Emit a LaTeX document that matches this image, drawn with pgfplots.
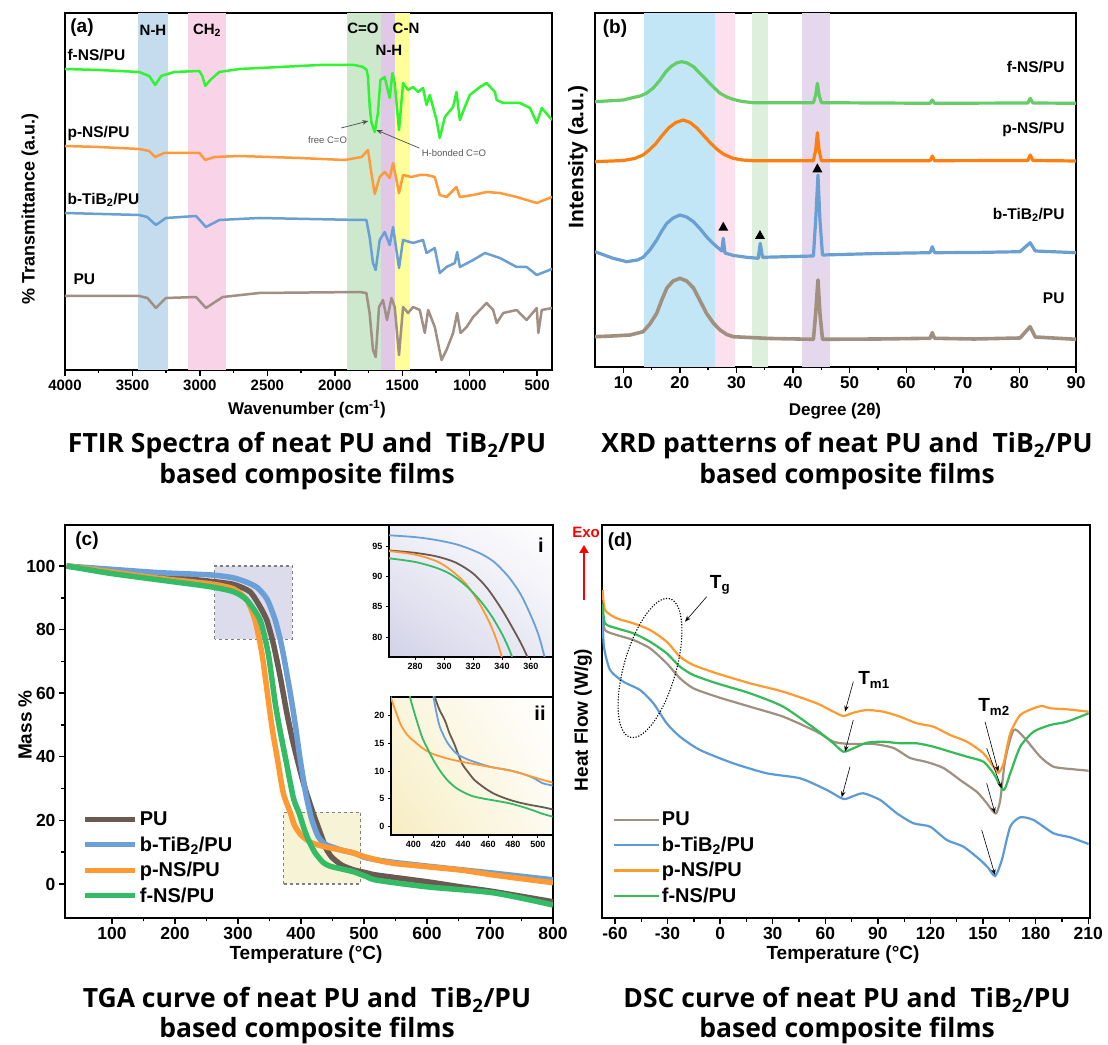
\documentclass[border=0pt]{standalone}
\usepackage{pgfplots}
\pgfplotsset{compat=1.18}
\usepackage{fontspec}
\setmainfont{Liberation Sans}
\newfontfamily\capfont{Open Sans}
\usetikzlibrary{arrows.meta,shadings}

\definecolor{cPUa}{HTML}{A08F84}
\definecolor{cBa}{HTML}{6A9FD4}
\definecolor{cPa}{HTML}{FF9A3C}
\definecolor{cFa}{HTML}{2EF52E}
\definecolor{cPUb}{HTML}{A09080}
\definecolor{cBb}{HTML}{6A9FD4}
\definecolor{cPb}{HTML}{FF7F0E}
\definecolor{cFb}{HTML}{66CC66}
\definecolor{cPUc}{HTML}{6B5A52}
\definecolor{cBc}{HTML}{6A9FD8}
\definecolor{cPc}{HTML}{FF9933}
\definecolor{cFc}{HTML}{33BB66}
\definecolor{cPUd}{HTML}{A09080}
\definecolor{cBd}{HTML}{5B9BD5}
\definecolor{cPd}{HTML}{FF9A2E}
\definecolor{cFd}{HTML}{33BB55}
\definecolor{bNH}{HTML}{C5DCEF}
\definecolor{bCH}{HTML}{F9D4E8}
\definecolor{bCO}{HTML}{CDE8CD}
\definecolor{bNHb}{HTML}{E0C8E6}
\definecolor{bCN}{HTML}{FFFF99}
\definecolor{xA}{HTML}{C2E6F6}
\definecolor{xB}{HTML}{FCE0EE}
\definecolor{xC}{HTML}{DDF0DD}
\definecolor{xD}{HTML}{E6D8EC}
\definecolor{boxI}{HTML}{DCDCEC}
\definecolor{boxII}{HTML}{F7F3D6}
\definecolor{insI}{HTML}{D2D2E8}
\definecolor{insII}{HTML}{F7EDC2}

\newcommand{\fsz}[1]{\fontsize{#1}{#1}\selectfont}

\pgfplotsset{
  panel/.style={scale only axis, anchor=south west, clip=true,
    axis line style={line width=2pt, black},
    tick align=outside, xtick pos=left, ytick pos=left,
    major tick length=6pt, minor tick length=3.5pt,
    tick style={black, line width=1.4pt},
    tick label style={font=\bfseries\fsz{#1}},
    /pgf/number format/assume math mode=true,
    /pgf/number format/1000 sep={},
  },
}

\begin{document}
\begin{tikzpicture}[x=1pt,y=1pt]
\fill[white] (0pt,0pt) rectangle (1108pt,1044pt);
\useasboundingbox (0pt,0pt) rectangle (1108pt,1044pt);

% ================= (a) FTIR =================
\begin{axis}[panel=15, at={(65pt,674pt)}, width=487pt, height=357pt,
  x dir=reverse, xmin=390, xmax=4000, y dir=reverse, ymin=13, ymax=370,
  xtick={500,1000,...,4000}, minor x tick num=1, ytick=\empty]
\fill[bNH] (axis cs:3460,13) rectangle (axis cs:3240,370);
\fill[bCH] (axis cs:3090,13) rectangle (axis cs:2810,370);
\fill[bCO] (axis cs:1907,13) rectangle (axis cs:1655,370);
\fill[bNHb] (axis cs:1655,13) rectangle (axis cs:1556,370);
\fill[bCN] (axis cs:1556,13) rectangle (axis cs:1439,370);
\addplot[cPUa, line width=2.5pt, line join=round] coordinates {
(4000,296) (3450,296) (3389,298) (3326,308) (3252,298) (3029,297) (2955,308) (2831,297) (2559,293) (1816,292) (1766,293) (1742,313) (1717,350) (1697,357) (1672,307) (1643,300) (1613,320) (1580,298) (1556,307) (1524,355) (1494,307) (1457,313) (1420,307) (1370,310) (1333,333) (1308,310) (1259,327) (1209,360) (1172,350) (1123,333) (1093,313) (1068,333) (1023,327) (974,317) (875,303) (826,310) (800,323) (751,313) (652,310) (578,320) (503,308) (491,333) (466,310) (390,308)};
\addplot[cBa, line width=2.5pt, line join=round] coordinates {
(4000,213) (3450,215) (3391,217) (3326,225) (3252,218) (3029,216) (2955,227) (2856,220) (2559,218) (1816,220) (1766,220) (1742,237) (1717,263) (1697,270) (1667,240) (1630,232) (1593,245) (1568,227) (1524,268) (1494,240) (1420,243) (1346,240) (1320,253) (1259,248) (1222,273) (1172,267) (1110,263) (1093,252) (1073,267) (974,260) (887,253) (776,258) (652,267) (578,267) (503,275) (390,269)};
\addplot[cPa, line width=2.5pt, line join=round] coordinates {
(4000,146) (3747,147) (3450,149) (3376,151) (3331,157) (3265,153) (3004,153) (2960,160) (2893,157) (2707,156) (2262,158) (1927,160) (1801,157) (1754,150) (1729,173) (1704,194) (1667,177) (1630,172) (1593,178) (1568,163) (1524,193) (1494,175) (1432,177) (1370,175) (1320,175) (1259,177) (1222,195) (1172,197) (1098,187) (1073,197) (974,195) (875,192) (776,193) (652,197) (503,203) (390,197)};
\addplot[cFa, line width=2.5pt, line join=round] coordinates {
(4000,69) (3747,70) (3450,72) (3376,76) (3331,85) (3287,76) (3190,72) (3004,71) (2982,76) (2960,86) (2923,80) (2856,72) (2707,69) (2410,67) (2113,65) (1853,65) (1791,67) (1764,70) (1754,77) (1741,107) (1729,122) (1704,132) (1680,113) (1662,80) (1630,77) (1593,98) (1573,73) (1556,83) (1524,130) (1494,83) (1457,90) (1420,87) (1383,92) (1346,88) (1320,105) (1296,95) (1246,120) (1222,138) (1184,117) (1123,107) (1098,92) (1073,120) (1036,107) (999,95) (924,87) (875,83) (813,92) (800,100) (751,103) (627,103) (553,108) (503,123) (466,108) (390,120)};
\draw[-{Stealth[length=6pt]}, black!70, line width=0.7pt] (axis cs:1952,128) -- (axis cs:1752,121);
\draw[-{Stealth[length=6pt]}, black!70, line width=0.7pt] (axis cs:1375,148) -- (axis cs:1692,130);
\node[font=\fsz{9.5}, text=black!65] at (axis cs:2054,140) {free C=O};
\node[font=\fsz{9.5}, text=black!65] at (axis cs:1117,153) {H-bonded C=O};
\end{axis}

% ================= (b) XRD =================
\begin{axis}[panel=17, at={(595pt,677pt)}, width=481pt, height=354pt,
  xmin=5, xmax=90, y dir=reverse, ymin=13, ymax=367,
  xtick={10,20,...,90}, minor x tick num=1, ytick=\empty]
\fill[xA] (axis cs:13.66,13) rectangle (axis cs:26.25,367);
\fill[xB] (axis cs:26.25,13) rectangle (axis cs:29.7,367);
\fill[xC] (axis cs:32.7,13) rectangle (axis cs:35.6,367);
\fill[xD] (axis cs:41.6,13) rectangle (axis cs:46.6,367);
\addplot[cPUb, line width=3.6pt, line join=round] coordinates {
(5,336.7) (8,336) (11.2,335) (13.5,331.7) (14.7,324) (15.9,313.3) (16.8,300) (17.7,288) (18.8,281) (20,278.3) (21.2,281) (22.4,288) (23.5,300) (24.7,313.3) (25.9,323) (27.1,330) (28.3,334.5) (29.4,336.7) (36,338.5) (43.6,339.3) (44.0,313.3) (44.4,280) (44.75,313.3) (45.2,339.3) (55,339) (64.2,338.3) (64.6,332.7) (65.0,338.3) (72,339) (80.1,338) (81.9,326.7) (82.8,337) (90,339.3)};
\addplot[cBb, line width=3.2pt, line join=round] coordinates {
(5,251.7) (8.2,258.3) (10.6,261.7) (12.5,260) (13.5,257.3) (14.7,250) (15.9,240) (16.8,231) (17.7,223.3) (18.8,218) (20,215) (21.2,217) (22.4,221.7) (23.6,229) (24.7,236.7) (25.6,242) (26.5,246.7) (27.4,251) (27.67,238.3) (27.96,253) (29.5,255.5) (31.8,257.3) (33.85,258.3) (34.2,243.3) (34.6,257.3) (43.6,256) (44.0,220) (44.4,175) (44.75,220) (45.2,255) (55,253.5) (64.2,252.7) (64.6,246.7) (65.0,252.7) (72,252.5) (80.1,251.7) (81.9,242.7) (82.8,251) (90,252.7)};
\addplot[cPb, line width=3.2pt, line join=round] coordinates {
(5,161.7) (10,160.5) (12,158.5) (13.5,155) (14.5,150.5) (15.7,144) (16.8,136) (18,128) (19.3,122.5) (20.6,120) (21.8,122.5) (23,128) (24.2,135.5) (25.4,143) (26.6,149.5) (27.8,154.5) (29.4,158.3) (31,160) (33,160.7) (43.6,160.7) (44.0,150) (44.3,132.7) (44.6,150) (45.0,160.7) (64.2,160.7) (64.6,156) (65,160.7) (81.5,160.5) (81.9,155) (82.4,160.5) (90,161)};
\addplot[cFb, line width=3.2pt, line join=round] coordinates {
(5,101.7) (10,100) (11.2,98.3) (13,96) (14.1,93.3) (15.3,88) (16.5,80) (17.5,72) (18.4,66.7) (19.4,63) (20.3,61.7) (21.3,63) (22.4,66.7) (23.5,73) (24.7,80) (25.9,87) (27.1,93.3) (28.3,97) (29.4,99.3) (31,101.5) (33,102.7) (43.6,102.7) (44.0,95) (44.3,83.3) (44.6,95) (45.0,102.7) (64.2,103.3) (64.6,100) (65,103.3) (81.5,103) (81.9,98.3) (82.4,103) (90,103.3)};
\fill (axis cs:27.67,226.7) ++(-5pt,-4pt) -- ++(10pt,0pt) -- ++(-5pt,9pt) -- cycle;
\fill (axis cs:34.15,235) ++(-5pt,-4pt) -- ++(10pt,0pt) -- ++(-5pt,9pt) -- cycle;
\fill (axis cs:44.3,168.3) ++(-5pt,-4pt) -- ++(10pt,0pt) -- ++(-5pt,9pt) -- cycle;
\end{axis}

% ================= (c) TGA =================
\begin{axis}[panel=17.5, at={(65pt,126pt)}, width=488pt, height=393pt,
  xmin=25.4, xmax=800, ymin=-10.7, ymax=112.9,
  xtick={100,200,...,800}, ytick={0,20,...,100}, minor tick num=1,
  legend style={at={(0.03,0.28)}, anchor=north west, draw=none, fill=none,
    font=\bfseries\fsz{20}, row sep=5.5pt, nodes={inner sep=2pt}},
  legend cell align=left,
  legend image code/.code={\draw[#1, line width=5pt] (0pt,0pt) -- (50pt,0pt);}]
\draw[dashed, gray, line width=1.2pt, fill=boxI] (axis cs:263,77) rectangle (axis cs:386,100);
\draw[dashed, gray, line width=1.2pt, fill=boxII] (axis cs:372,0) rectangle (axis cs:495,22.5);
\addplot[cPUc, line width=5.5pt, smooth, tension=0.4] coordinates {
(28,100) (97,98.5) (176,96.9) (256,95.2) (293,94.2) (319,91.9) (335,87.2) (345.7,83) (356,75.7) (367,65.2) (377.5,53.8) (388,44) (404,31.7) (418,23) (425,19.1) (433,14.8) (440,11.1) (449,8.4) (465,5.9) (484,4.4) (504,3.5) (520,2.8) (600,0.7) (653,-0.9) (706,-2.4) (800,-5.6)};
\addlegendentry{PU}
\addplot[cBc, line width=5.5pt, smooth, tension=0.4] coordinates {
(28,100) (97,99) (176,97.9) (256,97.2) (290,96.4) (310,95.2) (330,93.3) (346,89.6) (359,83) (369.6,74.6) (383,60) (391,50) (398,40) (408,28) (416,21) (421,18) (427,15) (435,13) (443,12.1) (465,10.6) (486,9.6) (504,8.2) (547,6.8) (653,4.5) (706,3.4) (800,1.3)};
\addlegendentry{b-TiB\textsubscript{2}/PU}
\addplot[cPc, line width=5.5pt, smooth, tension=0.4] coordinates {
(28,100) (97,98.2) (176,96.1) (256,94.4) (293,92.8) (314,89.3) (327,83) (338,72.5) (348,58) (355,48) (362,40) (372,28.5) (382.8,22.6) (389.5,18.5) (400,15.4) (416,13) (438,11.7) (460,10.8) (481,9.9) (504,8.4) (547,6.5) (653,4.4) (706,2.8) (800,0.4)};
\addlegendentry{p-NS/PU}
\addplot[cFc, line width=5.5pt, smooth, tension=0.4] coordinates {
(28,100) (97,97.7) (176,95.6) (256,93.5) (293,91.9) (314,89.3) (335,83) (348,72.5) (359,57) (367,48) (375,40) (388,27) (397.6,22) (404,17.9) (411,14.2) (422,9.9) (435,6.8) (446,5.6) (465,4.7) (484,3.8) (504,2.3) (520,1.2) (600,-0.9) (706,-2.8) (800,-6.6)};
\addlegendentry{f-NS/PU}
\end{axis}

% inset i
\begin{axis}[panel=9, at={(389pt,387pt)}, width=163.7pt, height=132pt,
  axis line style={line width=1.6pt}, major tick length=3pt, tick style={line width=1pt},
  xmin=262, xmax=375, ymin=76.7, ymax=98.5,
  xtick={280,300,...,360}, ytick={80,85,90,95},
  axis background/.style={shade, lower left=insI, upper left=insI!35!white, lower right=insI!45!white, upper right=white}]
\addplot[cPUc, line width=1.8pt, smooth] coordinates {
(262,94.3) (280,93.9) (295,93.3) (308,92.3) (320,90.5) (330,88) (340,84.5) (348,81.2) (353,79) (357,77) (359,75.5)};
\addplot[cBc, line width=1.8pt, smooth] coordinates {
(262,96.8) (280,96.5) (295,96.0) (310,95.2) (325,93.8) (335,92.3) (345,89.8) (353,87) (360,83.5) (365,80.5) (368,78) (370,76)};
\addplot[cPc, line width=1.8pt, smooth] coordinates {
(262,94.2) (280,93.6) (295,92.5) (305,91) (315,88.8) (322,86.5) (328,84) (333,81.5) (337,79) (339.5,77) (341,75.5)};
\addplot[cFc, line width=1.8pt, smooth] coordinates {
(262,93) (280,92.4) (295,91.4) (305,90.3) (315,88.5) (325,86) (333,83.4) (340,80.5) (344,78.5) (346.5,77) (348,75.5)};
\end{axis}

% inset ii
\begin{axis}[panel=9, at={(391pt,209pt)}, width=161.7pt, height=138pt,
  axis line style={line width=1.6pt}, major tick length=3pt, tick style={line width=1pt},
  xmin=382, xmax=512, ymin=-1.5, ymax=23.3,
  xtick={400,420,...,500}, ytick={0,5,...,20},
  axis background/.style={shade, lower left=insII, upper left=insII!55!white, lower right=insII!25!white, upper right=white}]
\addplot[cPUc, line width=1.8pt, smooth] coordinates {
(416,25) (417.7,23) (421,21) (425.3,19.1) (429,16.8) (433,14.8) (436,13) (439.7,11.1) (444,9.8) (449,8.4) (457,7) (465,5.9) (475,5) (483.9,4.4) (494,3.9) (504,3.5) (512,3.1)};
\addplot[cBc, line width=1.8pt, smooth] coordinates {
(415,26) (416.4,23) (420.5,18.5) (424,16.5) (427.3,15.1) (431,14) (435.4,13) (443.4,12.1) (455,11.2) (465,10.6) (476,10.2) (486.5,9.6) (496,8.8) (504,7.8) (512,7.4)};
\addplot[cPc, line width=1.8pt, smooth] coordinates {
(380,24.5) (382.8,22.6) (389.5,18.5) (395,16.5) (400.3,15.4) (408,14) (416.4,13) (428,12.2) (438,11.7) (450,11.2) (459.6,10.8) (470,10.4) (481,9.9) (492,9.2) (504,8.4) (512,7.9)};
\addplot[cFc, line width=1.8pt, smooth] coordinates {
(396,25) (397.6,23) (401,20.3) (404.3,17.9) (407.5,15.8) (411,14.2) (416,12) (421.9,9.9) (428,8.2) (435.4,6.8) (446,5.6) (455,5.1) (465,4.7) (475,4.3) (483.9,3.8) (494,3.1) (504,2.3) (512,1.8)};
\end{axis}

% ================= (d) DSC =================
\begin{axis}[panel=17.5, at={(602pt,126pt)}, width=488pt, height=393pt,
  xmin=-67.4, xmax=211, y dir=reverse, ymin=525, ymax=918,
  xtick={-60,-30,...,210}, minor x tick num=1, ytick=\empty,
  legend style={at={(0.015,0.28)}, anchor=north west, draw=none, fill=none,
    font=\bfseries\fsz{20}, row sep=5.5pt, nodes={inner sep=2pt}},
  legend cell align=left,
  legend image code/.code={\draw[#1, line width=2.4pt] (0pt,0pt) -- (45pt,0pt);}]
\addplot[cPUd, line width=2.2pt, smooth, tension=0.4] coordinates {
(-67,613.3) (-65.7,630) (-59,635) (-49.5,640) (-40,648.3) (-30.5,663.3) (-22.9,678.3) (-15.3,688.3) (-2,696.7) (17,706.7) (36,716.7) (55.1,731.7) (64.6,741.7) (74,744) (87.5,744) (98.9,748) (108.4,758) (117.9,762) (127.4,768) (136.9,780) (146.5,792) (152,803) (155,810) (157.5,813.3) (159.8,800) (162.6,760) (167.4,730) (173,736.7) (182.6,756.7) (190.2,766.7) (201.6,769.3) (210.2,770.7)};
\addlegendentry{PU}
\addplot[cBd, line width=2.2pt, smooth, tension=0.4] coordinates {
(-67,616.7) (-66.3,646.7) (-62.8,670) (-55.2,681.7) (-45.7,690) (-38.1,703.3) (-30.5,723.3) (-22.9,736.7) (-11.5,750) (7.5,763.3) (26.6,773.3) (45.6,778.3) (60.9,790) (70.3,799) (76,796) (81.8,793.3) (91.3,800) (100.8,813.3) (110.3,823.3) (119.8,826.7) (129.3,840) (138.8,846.7) (148.4,860) (153,868) (156.9,876) (160.7,860) (165.5,826.7) (171.2,817.3) (178.8,820) (190.2,833.3) (199.7,837.3) (210.2,844)};
\addlegendentry{b-TiB\textsubscript{2}/PU}
\addplot[cPd, line width=2.2pt, smooth, tension=0.4] coordinates {
(-67,590) (-65.7,610) (-59,618.3) (-49.5,623.3) (-40,630) (-30.5,641.7) (-22.9,656.7) (-15.3,665) (-2,673.3) (17,683.3) (36,691.7) (55.1,703.3) (64.6,711.7) (70.3,716) (76,712.7) (83.7,710) (93.2,711.7) (102.7,716.7) (112.2,723.3) (121.7,726.7) (131.2,735) (140.8,741.7) (150.2,753.3) (155.9,766.7) (158.8,772.7) (161.7,763.3) (165.5,733.3) (171.2,715) (178.8,708.3) (183.6,706) (188.3,708.3) (197.8,709.3) (210.2,711.7)};
\addlegendentry{p-NS/PU}
\addplot[cFd, line width=2.2pt, smooth, tension=0.4] coordinates {
(-67,603.3) (-65.7,623.3) (-59,628.3) (-49.5,633.3) (-40,641.7) (-30.5,653.3) (-22.9,666.7) (-15.3,675) (-2,683.3) (17,693.3) (36,706.7) (55.1,730) (64.6,743.3) (70.3,751.7) (76,748.3) (83.7,742.7) (93.2,741.7) (102.7,743.3) (112.2,743.3) (121.7,746.7) (131.2,751.7) (140.8,756.7) (150.2,761.7) (155.9,773.3) (161.7,790) (165.5,773.3) (171.2,746.7) (178.8,731.7) (188.3,725) (197.8,721.7) (210.2,713.3)};
\addlegendentry{f-NS/PU}
\end{axis}

% ================= texts (a) =================
\node[font=\bfseries\fsz{19}] at (82pt,1016pt) {(a)};
\node[font=\bfseries\fsz{15}] at (153pt,1014pt) {N-H};
\node[font=\bfseries\fsz{15}] at (207pt,1014pt) {CH\textsubscript{2}};
\node[font=\bfseries\fsz{15}] at (363pt,1016pt) {C=O};
\node[font=\bfseries\fsz{15}] at (406pt,1016pt) {C-N};
\node[font=\bfseries\fsz{15}] at (389pt,994pt) {N-H};
\node[font=\bfseries\fsz{15.5}, anchor=west] at (64pt,989pt) {f-NS/PU};
\node[font=\bfseries\fsz{15.5}, anchor=west] at (64pt,910pt) {p-NS/PU};
\node[font=\bfseries\fsz{15.5}, anchor=west] at (64pt,844pt) {b-TiB\textsubscript{2}/PU};
\node[font=\bfseries\fsz{15.5}, anchor=west] at (70pt,765pt) {PU};
\node[font=\bfseries\fsz{17}] at (307pt,635pt) {Wavenumber (cm\textsuperscript{-1})};
\node[font=\bfseries\fsz{18}, rotate=90] at (30pt,835pt) {\% Transmittance (a.u.)};
\node[font=\capfont\bfseries\fsz{26.5}] at (307pt,598pt) {FTIR Spectra of neat PU and\ \ TiB\textsubscript{2}/PU};
\node[font=\capfont\bfseries\fsz{26.5}] at (307pt,567pt) {based composite films};

% ================= texts (b) =================
\node[font=\bfseries\fsz{19}] at (615pt,1015pt) {(b)};
\node[font=\bfseries\fsz{15.5}, anchor=east] at (1068pt,977pt) {f-NS/PU};
\node[font=\bfseries\fsz{15.5}, anchor=east] at (1068pt,914pt) {p-NS/PU};
\node[font=\bfseries\fsz{15.5}, anchor=east] at (1068pt,829pt) {b-TiB\textsubscript{2}/PU};
\node[font=\bfseries\fsz{15.5}, anchor=east] at (1068pt,746pt) {PU};
\node[font=\bfseries\fsz{17}] at (835pt,633pt) {Degree (2θ)};
\node[font=\bfseries\fsz{21}, rotate=90] at (578pt,887pt) {Intensity (a.u.)};
\node[font=\capfont\bfseries\fsz{26.5}] at (847pt,598pt) {XRD patterns of neat PU and\ \ TiB\textsubscript{2}/PU};
\node[font=\capfont\bfseries\fsz{26.5}] at (847pt,567pt) {based composite films};

% ================= texts (c) =================
\node[font=\bfseries\fsz{19}] at (87pt,503pt) {(c)};
\node[font=\bfseries\fsz{20}] at (541pt,499pt) {i};
\node[font=\bfseries\fsz{20}] at (540pt,331pt) {ii};
\node[font=\bfseries\fsz{19}, rotate=90] at (25pt,319pt) {Mass \%};
\node[font=\bfseries\fsz{19}] at (306pt,89pt) {Temperature (°C)};
\node[font=\capfont\bfseries\fsz{26.5}] at (307pt,44pt) {TGA curve of neat PU and\ \ TiB\textsubscript{2}/PU};
\node[font=\capfont\bfseries\fsz{26.5}] at (307pt,13pt) {based composite films};

% ================= texts (d) =================
\node[font=\bfseries\fsz{19}] at (620pt,502pt) {(d)};
\node[font=\bfseries\fsz{19}, rotate=90] at (583pt,324pt) {Heat Flow (W/g)};
\node[font=\bfseries\fsz{19}] at (843pt,89pt) {Temperature (°C)};
\node[font=\capfont\bfseries\fsz{26.5}] at (847pt,44pt) {DSC curve of neat PU and\ \ TiB\textsubscript{2}/PU};
\node[font=\capfont\bfseries\fsz{26.5}] at (847pt,13pt) {based composite films};
\node[font=\bfseries\fsz{15}, text=red] at (586pt,512pt) {Exo};
\draw[red, line width=2.5pt, -{Triangle[length=8pt,width=9pt]}] (584pt,444pt) -- (584pt,499pt);
\draw[black, line width=1.1pt, dash pattern=on 1.2pt off 1.6pt, rotate around={-16:(650pt,376pt)}] (650pt,376pt) ellipse (26pt and 72pt);
\node[font=\bfseries\fsz{19}] at (720pt,459pt) {T\textsubscript{g}};
\node[font=\bfseries\fsz{19}] at (874pt,364pt) {T\textsubscript{m1}};
\node[font=\bfseries\fsz{19}] at (994pt,337pt) {T\textsubscript{m2}};
\begin{scope}[black, line width=0.6pt, -{Stealth[length=6pt]}]
\draw (706.7pt,447.3pt) -- (685pt,422.3pt);
\draw (853.3pt,362.3pt) -- (845pt,332.3pt);
\draw (853.3pt,324pt) -- (845pt,292.3pt);
\draw (850pt,277.3pt) -- (841.7pt,246.7pt);
\draw (985pt,322.3pt) -- (998.3pt,272.3pt);
\draw (986.7pt,295.7pt) -- (1001.7pt,255.7pt);
\draw (986.7pt,260.7pt) -- (995pt,230.7pt);
\draw (981.7pt,214pt) -- (995pt,169pt);
\end{scope}
\end{tikzpicture}
\end{document}
